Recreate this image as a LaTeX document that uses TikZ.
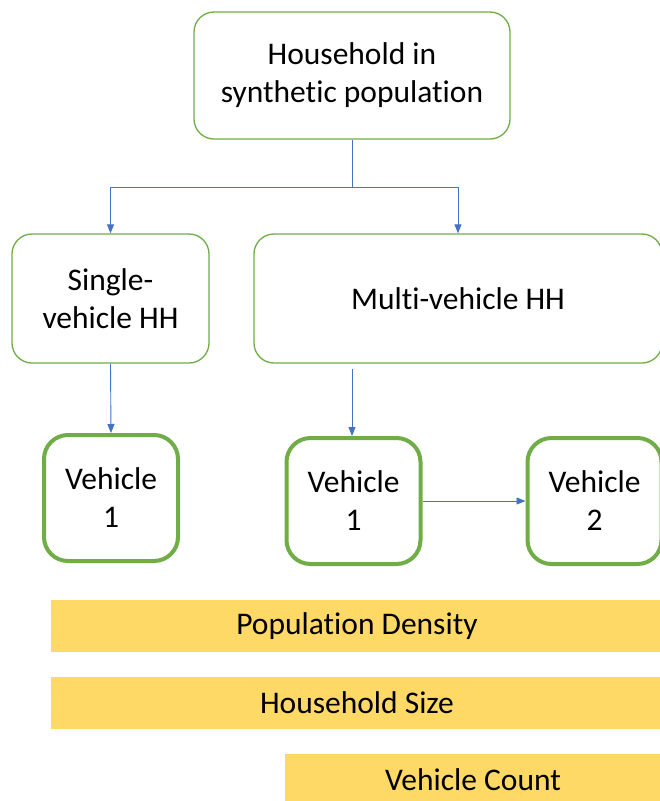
\documentclass[tikz,border=0pt]{standalone}
\usepackage{fontspec}
\setmainfont{Carlito}[Ligatures=NoCommon]
\usetikzlibrary{arrows.meta}
\definecolor{hhgreen}{HTML}{70AD47}
\definecolor{arrblue}{HTML}{4472C4}
\definecolor{bargold}{HTML}{FFD966}
\tikzset{
  txt/.style={font=\fontsize{31.5}{38}\selectfont, align=center, text=black},
  hhbox/.style={txt, draw=hhgreen, line width=1.3pt, rounded corners=20pt, fill=white, inner sep=0pt},
  vehbox/.style={txt, draw=hhgreen, line width=4pt, rounded corners=24pt, fill=white, inner sep=0pt,
                 minimum width=134pt, minimum height=126pt},
  bar/.style={txt, fill=bargold, inner sep=0pt, minimum height=52pt},
  arr/.style={draw=arrblue, line width=0.9pt, -{Triangle[length=9pt,width=7pt]}}
}
\begin{document}
\begin{tikzpicture}[x=1pt,y=-1pt]
\clip (0,0) rectangle (660,801);
\fill[white] (0,0) rectangle (660,801);
\node[hhbox, minimum width=316pt, minimum height=127pt] (top) at (352,75.5) {Household in\\synthetic population};
\node[hhbox, minimum width=197pt, minimum height=129pt] (single) at (110.5,298.5) {Single-\\vehicle HH};
\node[hhbox, minimum width=408pt, minimum height=129pt] (multi) at (458,298.5) {Multi-vehicle HH};
\node[vehbox] (v1a) at (111,498) {Vehicle\\1};
\node[vehbox] (v1b) at (353.5,501) {Vehicle\\1};
\node[vehbox] (v2) at (594.5,501) {Vehicle\\2};
\node[bar, minimum width=613pt] (popd) at (357,626) {Population Density};
\node[bar, minimum width=613pt] (hhs) at (357,703) {Household Size};
\node[bar, minimum width=376pt] (vc) at (473,780) {Vehicle Count};
\coordinate (split) at (352,187);
\coordinate (mstart) at (352,369);
\draw[draw=arrblue, line width=0.9pt] (top.south) -- (split);
\draw[arr] (split) -| (single.north);
\draw[arr] (split) -| (multi.north);
\draw[arr] (single.south) -- (v1a.north);
\draw[arr] (mstart) -- (mstart |- v1b.north);
\draw[arr] (v1b.east) -- (v2.west);
\end{tikzpicture}
\end{document}
